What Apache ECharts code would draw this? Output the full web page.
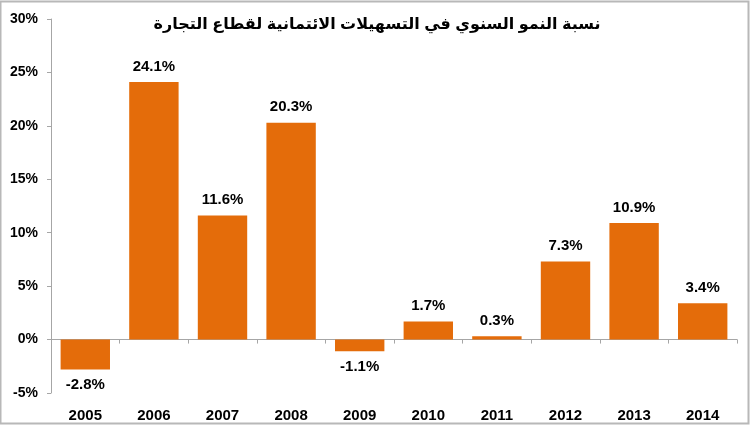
<!DOCTYPE html>
<html>
<head>
<meta charset="utf-8">
<script src="https://cdn.jsdelivr.net/npm/echarts@6/dist/echarts.min.js"></script>
<style>
  html, body { margin: 0; padding: 0; background: #fff; }
  #chart { width: 750px; height: 441px; }
</style>
</head>
<body>
<div id="chart"></div>
<script>
const years = ["2005", "2006", "2007", "2008", "2009", "2010", "2011", "2012", "2013", "2014"];
const growth = [-2.8, 24.1, 11.6, 20.3, -1.1, 1.7, 0.3, 7.3, 10.9, 3.4];
const titleText = "نسبة النمو السنوي في التسهيلات الائتمانية لقطاع التجارة";

const myChart = echarts.init(document.getElementById("chart"));
const font = "Arial, 'Liberation Sans', 'DejaVu Sans', sans-serif";

const option = {
    animation: false,
    title: {
        text: titleText,
        left: 372,
        top: 12,
        textAlign: "center",
        textStyle: { fontFamily: font, fontSize: 16, fontWeight: "bold", color: "#000" }
    },
    graphic: [{
        type: "rect",
        shape: { x: 0.5, y: 1.5, width: 748, height: 422 },
        style: { fill: null, stroke: "#b8b8b8", lineWidth: 2 },
        silent: true
    }],
    grid: { left: 51, right: 13, top: 19, bottom: 48 },
    xAxis: [
        {
            // year labels along the bottom
            type: "category",
            data: years,
            position: "bottom",
            axisLine: { show: false, onZero: false },
            axisTick: { show: false },
            axisLabel: { margin: 15, color: "#000", fontFamily: font, fontSize: 15, fontWeight: "bold" }
        },
        {
            // axis line at 0% with ticks
            type: "category",
            data: years,
            position: "bottom",
            axisLine: { onZero: true, lineStyle: { color: "#a6a6a6", width: 1 } },
            axisTick: { show: true, length: 4, lineStyle: { color: "#a6a6a6" } },
            axisLabel: { show: false }
        }
    ],
    yAxis: {
        type: "value",
        min: -5,
        max: 30,
        interval: 5,
        splitLine: { show: false },
        axisLine: { show: true, lineStyle: { color: "#a6a6a6" } },
        axisTick: { show: true, length: 4, lineStyle: { color: "#a6a6a6" } },
        axisLabel: {
            margin: 13,
            color: "#000",
            fontFamily: font,
            fontSize: 14,
            fontWeight: "bold",
            formatter: v => v + "%"
        }
    },
    series: [{
        type: "bar",
        barWidth: "72%",
        itemStyle: { color: "#e46c0a" },
        label: {
            show: true,
            distance: 8,
            color: "#000",
            fontFamily: font,
            fontSize: 15,
            fontWeight: "bold",
            formatter: p => p.value.toFixed(1) + "%"
        },
        data: growth.map(v => ({
            value: v,
            label: { position: v < 0 ? "bottom" : "top" }
        }))
    }]
};
myChart.setOption(option);
</script>
</body>
</html>
